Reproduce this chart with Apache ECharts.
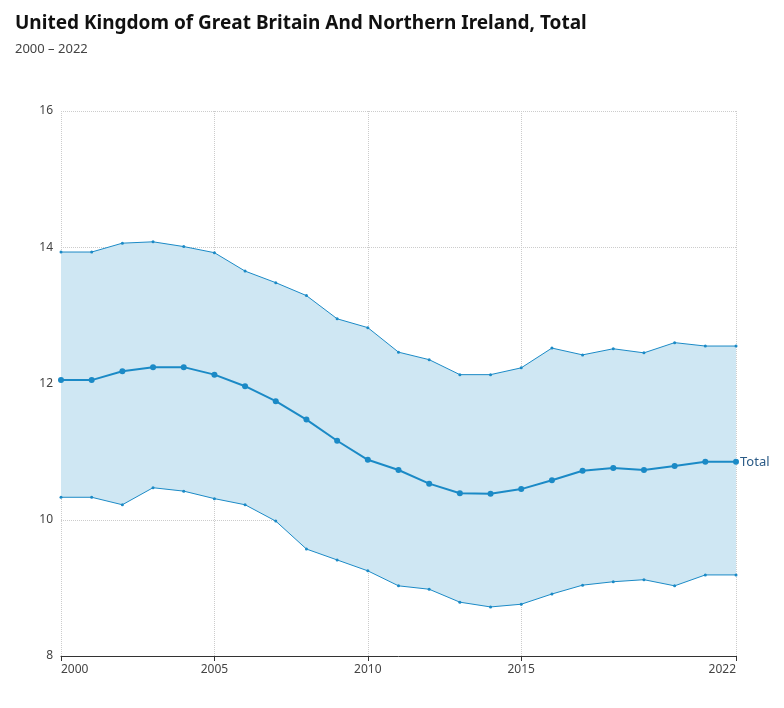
<!DOCTYPE html>
<html><head><meta charset="utf-8">
<script src="https://cdn.jsdelivr.net/npm/echarts@6/dist/echarts.min.js"></script>
<style>html,body{margin:0;padding:0;background:#fff}#c{width:784px;height:708px}</style>
</head><body><div id="c"></div>
<script>
const years = [2000,2001,2002,2003,2004,2005,2006,2007,2008,2009,2010,2011,2012,2013,2014,2015,2016,2017,2018,2019,2020,2021,2022];
const total = [12.05,12.05,12.18,12.24,12.24,12.13,11.96,11.74,11.47,11.16,10.88,10.73,10.53,10.39,10.38,10.45,10.58,10.72,10.76,10.73,10.79,10.85,10.85];
const upper = [13.93,13.93,14.06,14.08,14.01,13.92,13.65,13.48,13.29,12.95,12.82,12.46,12.35,12.13,12.13,12.23,12.52,12.42,12.51,12.45,12.60,12.55,12.55];
const lower = [10.33,10.33,10.22,10.47,10.42,10.31,10.22,9.98,9.57,9.41,9.25,9.03,8.98,8.79,8.72,8.76,8.91,9.04,9.09,9.12,9.03,9.19,9.19];
const xLabels = [2000,2005,2010,2015,2022];

const col = '#1b8ac6';
const font = 'Noto Sans';
const showIdx = (i) => xLabels.includes(years[i]);
const chart = echarts.init(document.getElementById('c'));
chart.setOption({
  animation:false,
  textStyle:{fontFamily:font},
  title:{text:'United Kingdom of Great Britain And Northern Ireland, Total',subtext:'2000 – 2022',left:10,top:9,
    textStyle:{fontSize:19,fontWeight:'bold',color:'#111',fontFamily:font},
    subtextStyle:{fontSize:13,color:'#444',fontFamily:font},itemGap:10},
  grid:{left:61,right:48,top:111,bottom:52},
  xAxis:{type:'category',data:years,boundaryGap:false,
    axisLine:{show:true,lineStyle:{color:'#333'}},
    axisTick:{show:true,interval:showIdx,lineStyle:{color:'#333'}},
    axisLabel:{interval:showIdx,color:'#444',fontSize:12,alignMinLabel:'left',alignMaxLabel:'right'},
    splitLine:{show:true,interval:showIdx,lineStyle:{type:'dotted',color:'#ccc'}}},
  yAxis:{type:'value',min:8,max:16,interval:2,
    axisLine:{show:false},axisTick:{show:false},
    axisLabel:{color:'#444',fontSize:12,margin:8},
    splitLine:{show:true,lineStyle:{type:'dotted',color:'#ccc'}}},
  series:[
    {type:'line',data:lower,stack:'band',symbol:'none',lineStyle:{opacity:0},silent:true},
    {type:'line',data:upper.map((u,i)=>+(u-lower[i]).toFixed(2)),stack:'band',symbol:'none',
      lineStyle:{opacity:0},areaStyle:{color:'#cfe7f3',opacity:1},silent:true},
    {type:'line',data:upper,symbol:'circle',symbolSize:3,itemStyle:{color:col},lineStyle:{color:col,width:1}},
    {type:'line',data:lower,symbol:'circle',symbolSize:3,itemStyle:{color:col},lineStyle:{color:col,width:1}},
    {type:'line',name:'Total',data:total,symbol:'circle',symbolSize:6,itemStyle:{color:col},lineStyle:{color:col,width:2},
      endLabel:{show:true,formatter:'Total',color:'#2a5a86',fontSize:13,distance:4}}
  ]
});
</script></body></html>
